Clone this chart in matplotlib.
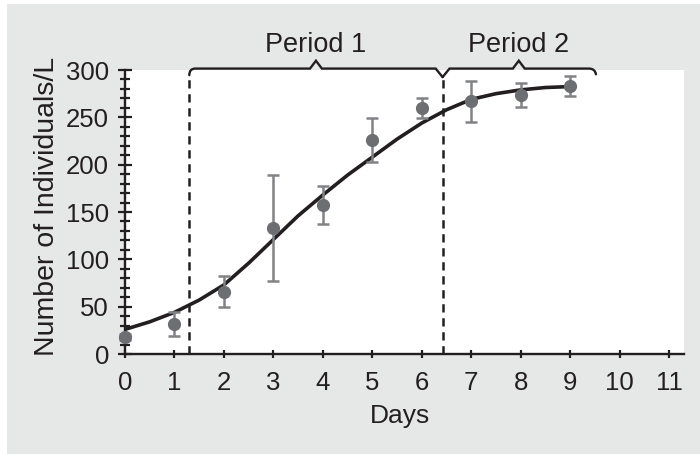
import matplotlib
matplotlib.use("Agg")
import matplotlib.pyplot as plt
from matplotlib.patches import Rectangle, PathPatch
from matplotlib.path import Path

plt.rcParams['font.family'] = ['Liberation Sans', 'DejaVu Sans']

# ---- data ----
days = [0, 1, 2, 3, 4, 5, 6, 7, 8, 9]
mean_individuals = [18, 32, 66, 133.5, 157, 226, 259.5, 267, 273.5, 283]
err_individuals = [3, 12.5, 16.4, 56, 20.2, 23.6, 10.5, 21.5, 12.3, 10.4]

curve_days = [0, 0.5, 1, 1.5, 2, 2.5, 3, 3.5, 4, 4.5, 5, 5.5, 6, 6.5, 7, 7.5, 8, 8.5, 9]
curve_values = [26, 34, 44, 57, 73, 96, 121, 146, 168, 189, 208, 227, 244, 258, 269, 275, 279, 281.5, 282.5]

period_bounds = [1.3, 6.42, 9.5]
period_labels = ["Period 1", "Period 2"]

x_ticks = list(range(0, 12))
y_ticks = [0, 50, 100, 150, 200, 250, 300]

# ---- figure ----
W, H = 700, 454
fig = plt.figure(figsize=(W / 100, H / 100), dpi=100, facecolor='white')
fig.patches.append(Rectangle((7 / W, 0), 1 - 7 / W, 1 - 4 / H, transform=fig.transFigure,
                             facecolor='#e6e7e7', edgecolor='none', zorder=-10))

ax = fig.add_axes([125 / W, 100 / H, 559 / W, 284 / H])
ax.set_zorder(1)
ax.set_facecolor('white')
ax.set_xlim(0, 11.3)
ax.set_ylim(0, 300)

for s in ['top', 'right']:
    ax.spines[s].set_visible(False)
for s in ['left', 'bottom']:
    ax.spines[s].set_linewidth(1.7)
    ax.spines[s].set_color('#231f20')

ax.set_xticks(x_ticks)
ax.set_yticks(y_ticks)
ax.set_yticks(list(range(0, 301, 10)), minor=True)
ax.tick_params(axis='y', which='major', direction='inout', length=10, width=1.6,
               labelsize=18.5, pad=6.5, colors='#231f20')
ax.tick_params(axis='y', which='minor', direction='inout', length=7.5, width=1.6,
               colors='#231f20')
ax.tick_params(axis='x', which='major', direction='inout', length=5.5, width=1.6,
               labelsize=18.5, pad=9.5, colors='#231f20')

# curve
ax.plot(curve_days, curve_values, color='#231f20', lw=2.6, solid_capstyle='round', zorder=3)

# data points with error bars
ax.errorbar(days, mean_individuals, yerr=err_individuals, fmt='none', ecolor='#808285',
            elinewidth=1.8, capsize=4.5, capthick=1.8, zorder=4, clip_on=False)
ax.plot(days, mean_individuals, 'o', color='#6d6e71', markersize=8.5, zorder=5, clip_on=False)

# dashed period boundaries
dash_tops = [294.5, 292.5]
for xb, top in zip(period_bounds[:2], dash_tops):
    ax.plot([xb, xb], [0, top], color='#231f20', lw=1.8, linestyle=(0, (3.3, 2.3)),
            clip_on=False, zorder=2)

# braces
y_line = 301.5
y_peak = 309.8
y_v = 292.5
y_curl = 294.5
cw = 0.12

def brace_path(x0, x1, left_kind, right_kind):
    verts, codes = [], []
    xm = (x0 + x1) / 2
    if left_kind == 'curl':
        verts += [(x0, y_curl), (x0, y_line), (x0 + 0.12, y_line)]
        codes += [Path.MOVETO, Path.CURVE3, Path.CURVE3]
    else:
        verts += [(x0, y_v), (x0 + 0.14, y_line)]
        codes += [Path.MOVETO, Path.LINETO]
    verts += [(xm - cw, y_line), (xm, y_peak), (xm + cw, y_line)]
    codes += [Path.LINETO] * 3
    if right_kind == 'curl':
        verts += [(x1 - 0.12, y_line), (x1, y_line), (x1 + 0.02, y_curl + 1)]
        codes += [Path.LINETO, Path.CURVE3, Path.CURVE3]
    else:
        verts += [(x1 - 0.14, y_line), (x1, y_v)]
        codes += [Path.LINETO, Path.LINETO]
    return Path(verts, codes)

kinds = [('curl', 'v'), ('v', 'curl')]
for i, lab in enumerate(period_labels):
    x0, x1 = period_bounds[i], period_bounds[i + 1]
    p = PathPatch(brace_path(x0, x1, *kinds[i]), fill=False, edgecolor='#231f20', lw=1.7,
                  capstyle='round', joinstyle='miter', clip_on=False, zorder=3)
    ax.add_patch(p)
    ax.text((x0 + x1) / 2, 319.5, lab, ha='center', va='baseline', fontsize=19.5,
            color='#231f20', clip_on=False)

fig.text(46.5 / W, 1 - 206.5 / H, 'Number of Individuals/L', rotation=90, ha='center',
         va='center', fontsize=20.5, color='#231f20')
fig.text(400 / W, 31 / H, 'Days', ha='center', va='baseline', fontsize=19, color='#231f20')

fig.savefig('out.png', dpi=100, facecolor=fig.get_facecolor())
